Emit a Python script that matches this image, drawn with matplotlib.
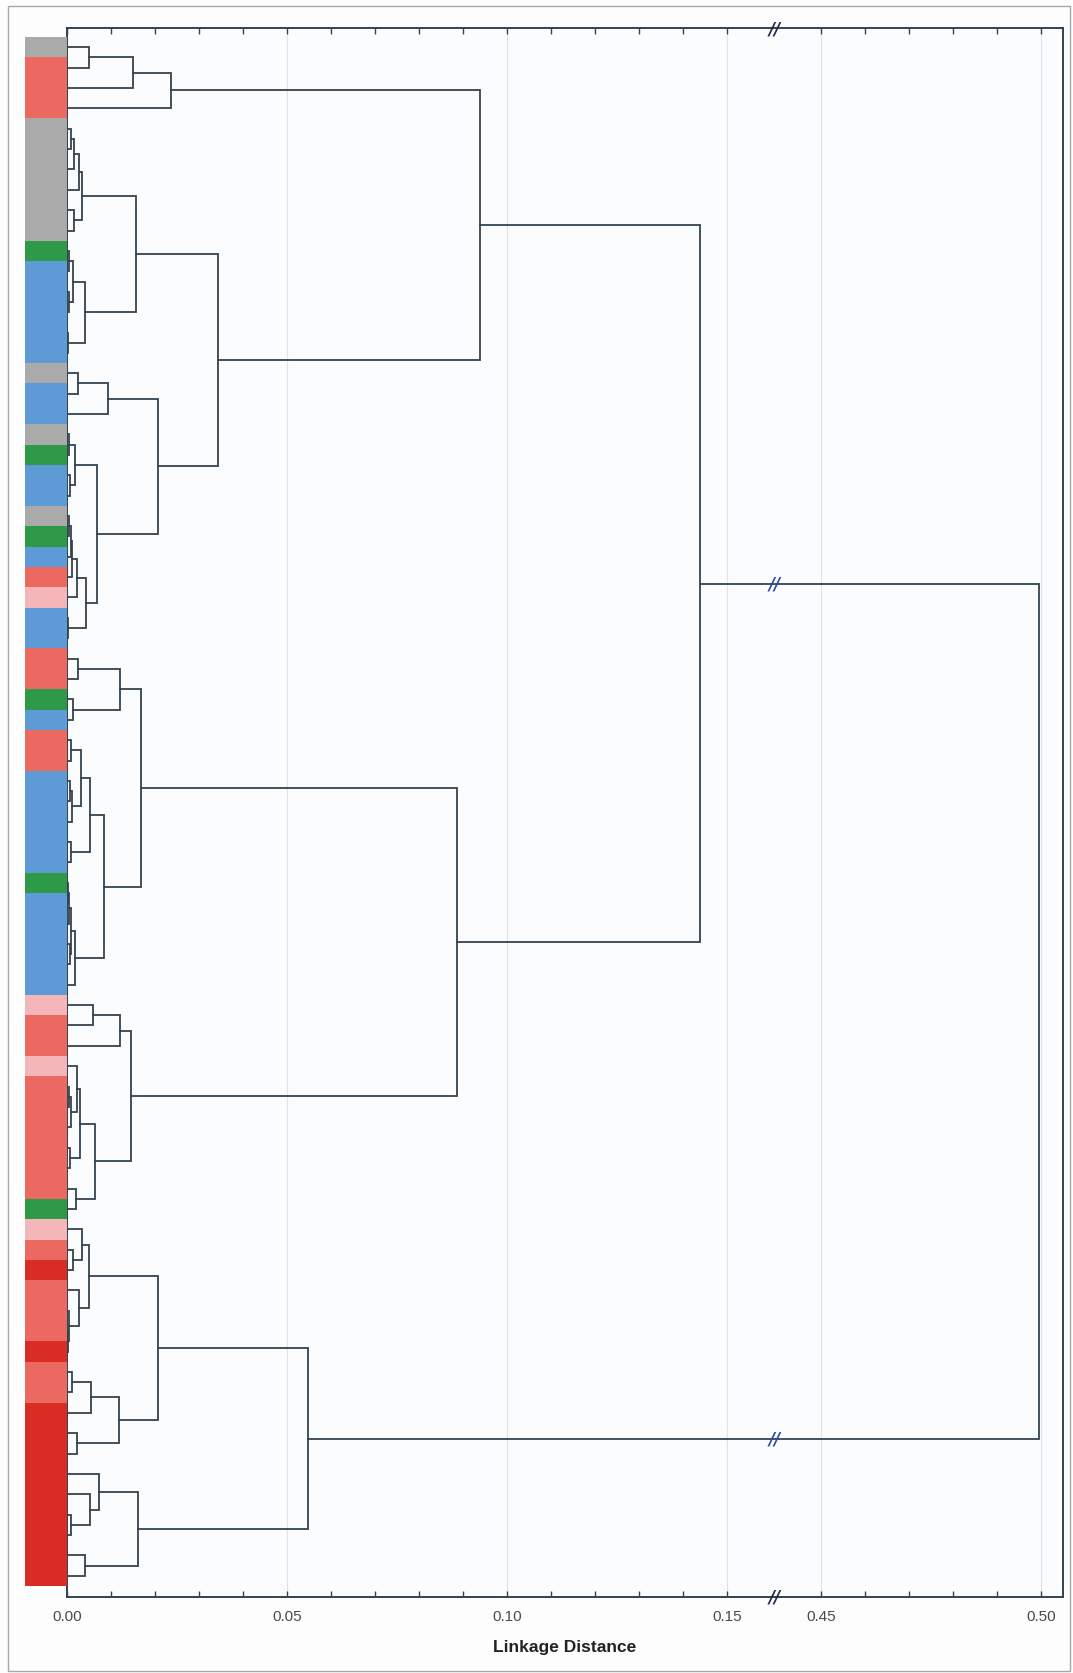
import numpy as np
import matplotlib
matplotlib.use("Agg")
import matplotlib.pyplot as plt
from matplotlib.patches import Rectangle

# ---------------- data ----------------
# colour strip: runs of leaf categories from top to bottom
run_category = ["gray", "salmon", "gray", "green", "blue", "gray", "blue", "gray", "green",
                "blue", "gray", "green", "blue", "salmon", "pink", "blue", "salmon", "green",
                "blue", "salmon", "blue", "green", "blue", "pink", "salmon", "pink", "salmon",
                "green", "pink", "salmon", "darkred", "salmon", "darkred", "salmon", "darkred"]
run_length = [1, 3, 6, 1, 5, 1, 2, 1, 1,
              2, 1, 1, 1, 1, 1, 2, 2, 1,
              1, 2, 5, 1, 5, 1, 2, 1, 6,
              1, 1, 1, 1, 3, 1, 2, 9]

category_colors = {"gray": "#AAAAAA", "salmon": "#EC6962", "pink": "#F4B6B9",
                   "blue": "#5E9AD5", "green": "#2E9A47", "darkred": "#D92C24"}

# merges: (node name, left child, right child, linkage distance)
merges = [
    ("a1", 0, 1, 0.0051), ("a2", "a1", 2, 0.0149), ("a3", "a2", 3, 0.0236),
    ("g1", 4, 5, 0.0008), ("g2", "g1", 6, 0.0016), ("g3", "g2", 7, 0.0027),
    ("g4", 8, 9, 0.0016), ("g5", "g3", "g4", 0.0035),
    ("b1", 10, 11, 0.0004), ("b2", 12, 13, 0.0005), ("b3", "b1", "b2", 0.0014),
    ("b4", 14, 15, 0.0002), ("b5", "b3", "b4", 0.0042),
    ("c1", "g5", "b5", 0.0156),
    ("d1", 16, 17, 0.0026), ("d2", "d1", 18, 0.0094),
    ("e1", 19, 20, 0.0005), ("e2", 21, 22, 0.0006), ("e3", "e1", "e2", 0.0018),
    ("f1", 23, 24, 0.0004), ("f2", "f1", 25, 0.0009), ("f3", "f2", 26, 0.0012),
    ("f4", "f3", 27, 0.0023), ("f5", 28, 29, 0.0003), ("f6", "f4", "f5", 0.0044),
    ("e4", "e3", "f6", 0.0069), ("d3", "d2", "e4", 0.0207),
    ("c2", "c1", "d3", 0.0344), ("A", "a3", "c2", 0.0938),
    ("h1", 30, 31, 0.0026), ("h2", 32, 33, 0.0014), ("h3", "h1", "h2", 0.0120),
    ("i1", 34, 35, 0.0010), ("i2", 36, 37, 0.0007), ("i3", "i2", 38, 0.0012),
    ("i4", "i1", "i3", 0.0032), ("i5", 39, 40, 0.0009), ("i6", "i4", "i5", 0.0052),
    ("j1", 41, 42, 0.0002), ("j2", "j1", 43, 0.0004), ("j3", 44, 45, 0.0006),
    ("j4", "j2", "j3", 0.0009), ("j5", "j4", 46, 0.0018),
    ("i7", "i6", "j5", 0.0085), ("h4", "h3", "i7", 0.0168),
    ("k1", 47, 48, 0.0058), ("k2", "k1", 49, 0.0120),
    ("l1", 51, 52, 0.0004), ("l2", "l1", 53, 0.0010), ("l3", 50, "l2", 0.0023),
    ("l4", 54, 55, 0.0007), ("l5", "l3", "l4", 0.0029), ("l6", 56, 57, 0.0020),
    ("l7", "l5", "l6", 0.0063), ("k3", "k2", "l7", 0.0146),
    ("B", "h4", "k3", 0.0887), ("U", "A", "B", 0.1439),
    ("m1", 59, 60, 0.0014), ("m2", 58, "m1", 0.0035), ("m3", 63, 64, 0.0002),
    ("m4", 62, "m3", 0.0005), ("m5", 61, "m4", 0.0027), ("m6", "m2", "m5", 0.0051),
    ("n1", 65, 66, 0.0012), ("n2", "n1", 67, 0.0054), ("n3", 68, 69, 0.0023),
    ("n4", "n2", "n3", 0.0118), ("m7", "m6", "n4", 0.0207),
    ("o1", 72, 73, 0.0008), ("o2", 71, "o1", 0.0052), ("o3", 70, "o2", 0.0073),
    ("o4", 74, 75, 0.0041), ("o5", "o3", "o4", 0.0162),
    ("L", "m7", "o5", 0.0548), ("root", "U", "L", 0.4995),
]

major_ticks = [0.00, 0.05, 0.10, 0.15, 0.45, 0.50]
major_labels = ["0.00", "0.05", "0.10", "0.15", "0.45", "0.50"]
minor_ticks = [0.01, 0.02, 0.03, 0.04, 0.06, 0.07, 0.08, 0.09, 0.11, 0.12, 0.13, 0.14,
               0.46, 0.47, 0.48, 0.49]
x_label = "Linkage Distance"

# ---------------- broken x scale ----------------
BREAK_LO = 0.161
BREAK_HI = 0.4396
GAP = BREAK_HI - BREAK_LO


def fwd(x):
    x = np.asarray(x, dtype=float)
    return np.where(x <= BREAK_LO, x, np.where(x >= BREAK_HI, x - GAP, BREAK_LO))


def inv(y):
    y = np.asarray(y, dtype=float)
    return np.where(y <= BREAK_LO, y, y + GAP)


# ---------------- figure ----------------
W, H = 1073, 1674
fig = plt.figure(figsize=(W / 100, H / 100), dpi=100, facecolor="#FDFDFD")

def px_axes(x0, y0, x1, y1):
    return [x0 / W, 1 - y1 / H, (x1 - x0) / W, (y1 - y0) / H]

ax = fig.add_axes(px_axes(67, 29, 1063, 1598))
ax.set_facecolor("#FBFCFE")
strip = fig.add_axes(px_axes(25, 29, 67, 1598), sharey=ax)
strip.axis("off")

n_leaves = sum(run_length)
leaf_cat = []
for c, n in zip(run_category, run_length):
    leaf_cat += [c] * n

strip.barh(np.arange(n_leaves) + 0.5, [1] * n_leaves, height=1.0,
           color=[category_colors[c] for c in leaf_cat], linewidth=0)
strip.set_xlim(0, 1)

line_color = "#33434E"
pos = {i: i + 0.5 for i in range(n_leaves)}
hgt = {i: 0.0 for i in range(n_leaves)}
for name, l, r, h in merges:
    pos[name] = (pos[l] + pos[r]) / 2
    hgt[name] = h
    ax.plot([hgt[l], h, h, hgt[r]], [pos[l], pos[l], pos[r], pos[r]],
            color=line_color, lw=1.3, solid_joinstyle="miter", zorder=3)

ax.set_xscale("function", functions=(fwd, inv))
ax.set_xlim(0, 0.505)
ax.set_ylim(76.54, -0.44)

ax.set_xticks(major_ticks)
ax.set_xticklabels(major_labels)
ax.set_xticks(minor_ticks, minor=True)
ax.set_yticks([])
ax.tick_params(axis="x", which="both", direction="in", top=True, bottom=True,
               length=4, width=1.0, color="#33434E", pad=9,
               labelsize=11, labelcolor="#4A4A4A")
for lab in ax.get_xticklabels():
    lab.set_family(["Liberation Sans Narrow", "Liberation Sans", "DejaVu Sans"])
ax.grid(axis="x", which="major", color="#DCE3EA", lw=0.8, zorder=0)
for s in ax.spines.values():
    s.set_color("#33434E")
    s.set_linewidth(1.4)

ax.set_xlabel(x_label, fontsize=12.5, fontweight="bold", color="#222222",
              family=["Liberation Sans", "DejaVu Sans"], labelpad=11)

# break marks
bx = (775 - 67) / (1063 - 67)
for yy in (1.0, 0.0):
    ax.text(bx, yy, "//", transform=ax.transAxes, ha="center", va="center",
            fontsize=12, fontweight="bold", fontstyle="italic", color="#1E2A44",
            clip_on=False, zorder=5)
for node in ("U", "L"):
    ax.text(bx, pos[node], "//", transform=ax.get_yaxis_transform(), ha="center",
            va="center", fontsize=12, fontweight="bold", fontstyle="italic",
            color="#2A4CA0", zorder=5)

# outer frame
fig.add_artist(Rectangle((8 / W, 1 - 1672 / H), (1070 - 8) / W, (1672 - 7) / H,
                         transform=fig.transFigure, fill=False, ec="#A8A8A8", lw=1.0))

fig.savefig("out.png", dpi=100, facecolor=fig.get_facecolor())
